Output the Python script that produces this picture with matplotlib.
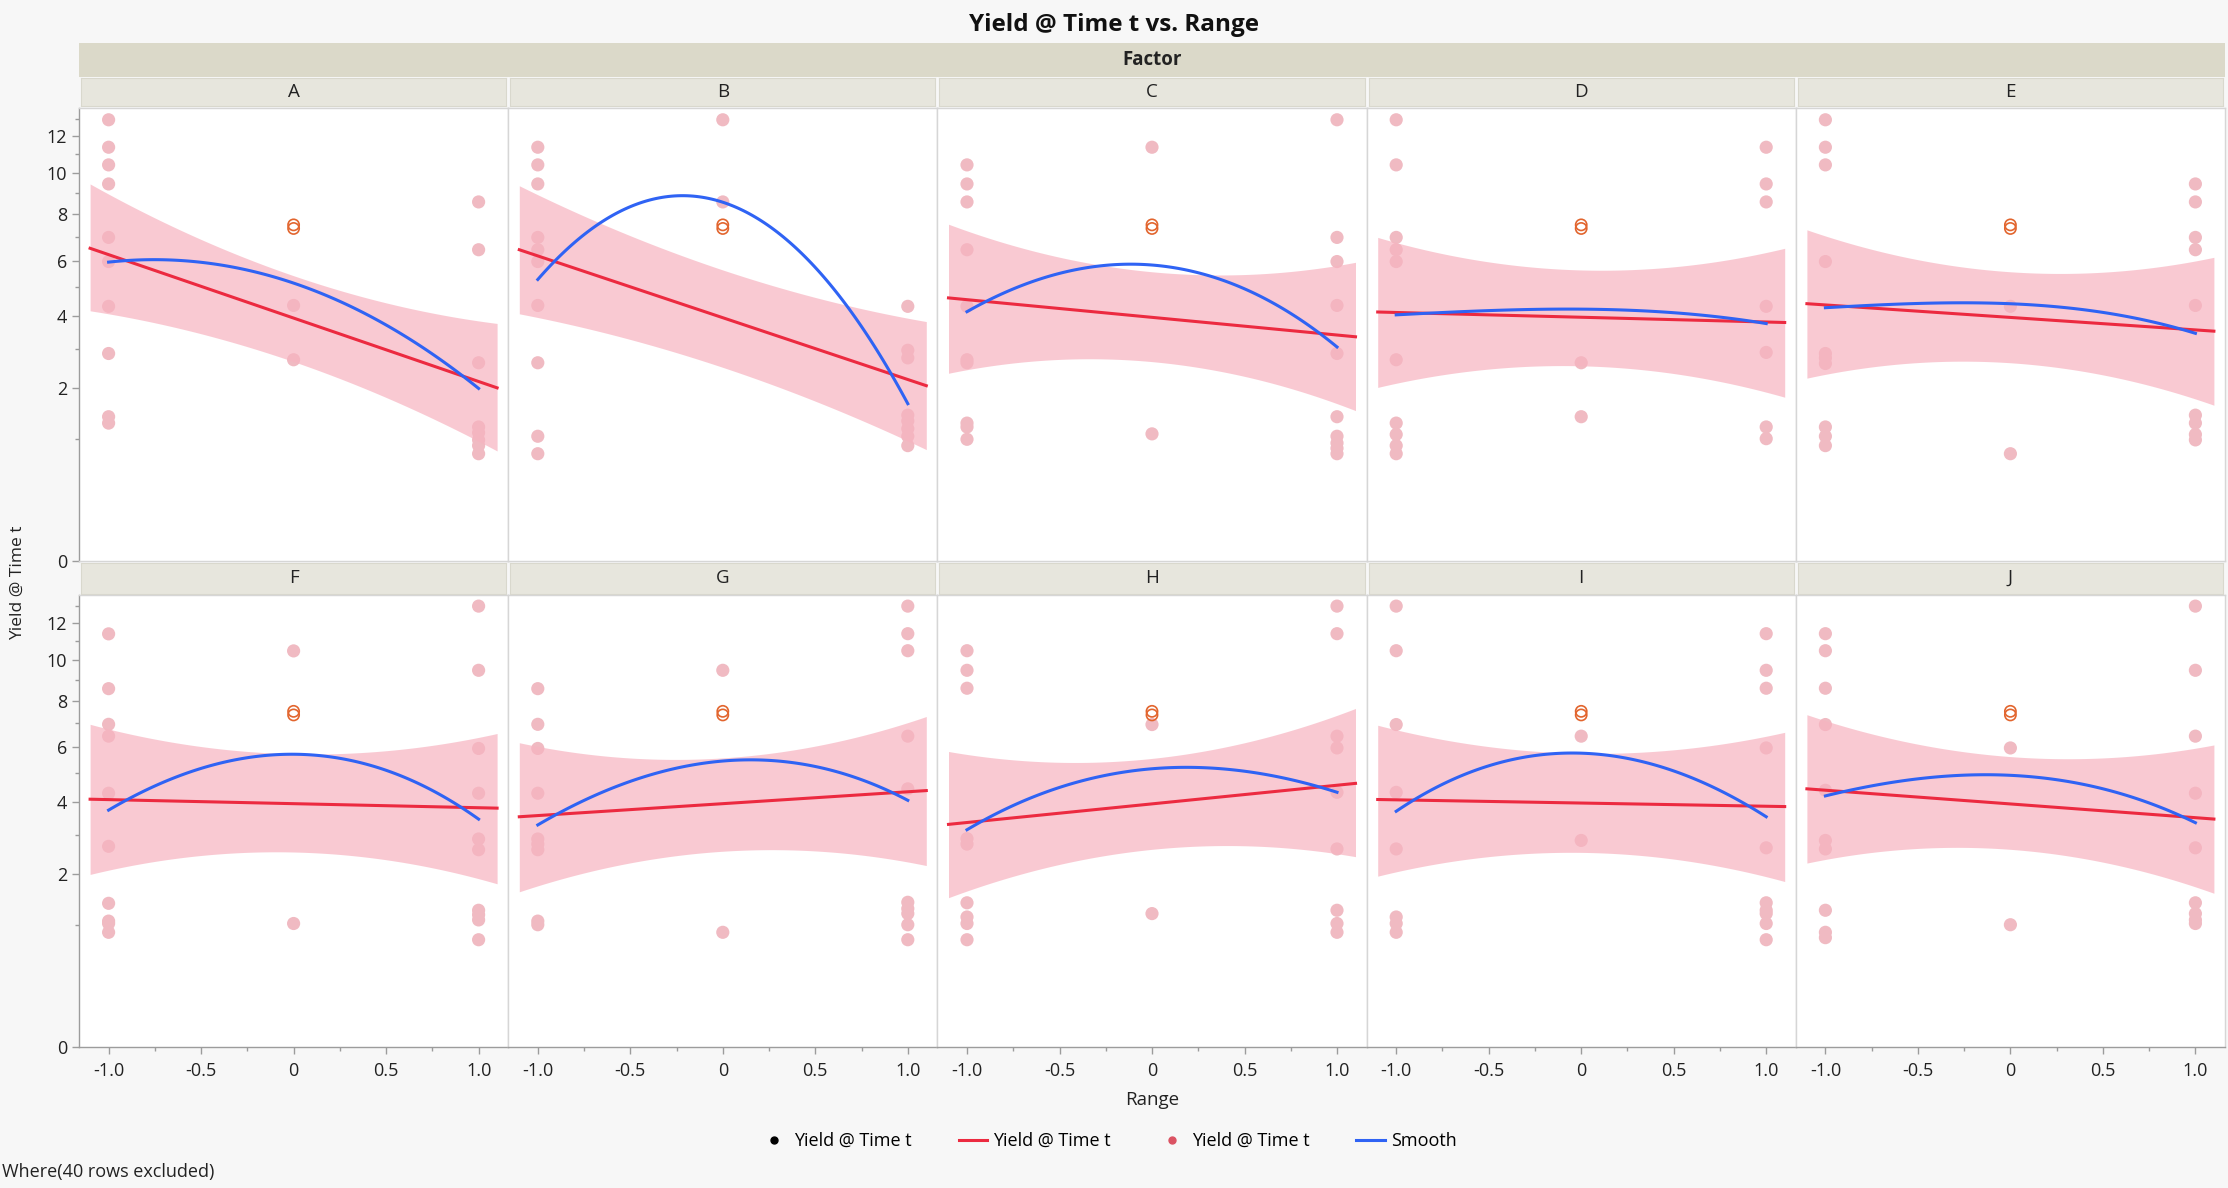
import numpy as np
import matplotlib
matplotlib.use("Agg")
import matplotlib.pyplot as plt
from matplotlib.lines import Line2D

plt.rcParams['font.family'] = ['Open Sans', 'DejaVu Sans']

# panels
factors = ["A", "B", "C", "D", "E", "F", "G", "H", "I", "J"]

# Yield @ Time t values at Range = -1, 0, 1 (one list per factor)
y_minus1 = [
    [12.95, 11.39, 10.44, 9.46, 6.97, 5.97, 4.32, 2.87, 1.39, 1.27],
    [11.39, 10.44, 9.46, 6.97, 6.45, 5.97, 4.35, 2.62, 1.04, 0.77],
    [10.44, 9.46, 8.58, 6.45, 4.32, 2.70, 2.62, 1.27, 1.20, 0.99],
    [12.95, 10.44, 6.97, 6.45, 5.97, 2.70, 1.27, 1.07, 0.89, 0.77],
    [12.95, 11.39, 10.44, 5.97, 2.87, 2.75, 2.60, 1.20, 1.04, 0.89],
    [11.39, 8.57, 6.95, 6.45, 4.30, 2.69, 1.38, 1.06, 1.02, 0.88],
    [8.57, 6.95, 5.95, 4.30, 2.89, 2.75, 2.60, 1.06, 1.00],
    [10.48, 9.47, 8.59, 2.90, 2.75, 1.39, 1.13, 1.02, 0.77],
    [12.97, 10.48, 6.94, 4.33, 2.62, 1.13, 1.02, 0.88],
    [11.40, 10.48, 8.59, 6.94, 4.40, 2.85, 2.62, 1.25, 0.88, 0.80],
]
y_zero = [
    [4.35, 2.70],
    [12.95, 8.58],
    [11.39, 1.08],
    [2.62, 1.39],
    [4.32, 0.77],
    [10.47, 1.02],
    [9.47, 0.88],
    [6.94, 1.19],
    [6.45, 2.85],
    [5.97, 1.00],
]
y_plus1 = [
    [8.58, 6.45, 2.62, 1.20, 1.10, 0.98, 0.89, 0.77],
    [4.32, 2.96, 2.75, 1.42, 1.31, 1.17, 1.04, 0.89],
    [12.95, 6.97, 5.97, 4.35, 2.87, 1.39, 1.04, 0.93, 0.85, 0.77],
    [11.39, 9.46, 8.58, 4.32, 2.90, 1.20, 1.00],
    [9.46, 8.58, 6.97, 6.45, 4.35, 1.42, 1.27, 1.07, 0.98],
    [12.97, 9.47, 5.95, 4.30, 2.89, 2.60, 1.25, 1.17, 1.08, 0.77],
    [12.97, 11.40, 10.48, 6.45, 4.45, 1.40, 1.28, 1.19, 1.00, 0.77],
    [12.97, 11.40, 6.45, 5.97, 4.33, 2.62, 1.25, 1.02, 0.88],
    [11.40, 9.47, 8.59, 5.97, 2.65, 1.39, 1.25, 1.19, 1.02, 0.77],
    [12.97, 9.47, 6.45, 4.30, 2.65, 1.39, 1.19, 1.08, 1.02],
]
# excluded rows shown as open circles at Range = 0
excluded_y = [7.36, 7.52]

# fitted line (ends of the fit range)
fit_x = [-1.1, 1.1]
fit_left = [6.51, 6.45, 4.61, 4.13, 4.41, 4.10, 3.54, 3.31, 4.09, 4.45]
fit_right = [2.00, 2.05, 3.35, 3.79, 3.52, 3.81, 4.39, 4.64, 3.86, 3.47]

# confidence band read at left end, centre, right end
band_x = [-1.1, 0.0, 1.1]
band_upper = [
    [9.46, 5.42, 3.76], [9.37, 5.64, 3.82], [7.55, 5.57, 5.94],
    [6.97, 5.64, 6.51], [7.30, 5.57, 6.14], [6.95, 5.74, 6.56],
    [6.18, 5.58, 7.29], [5.83, 5.56, 7.65], [6.91, 5.76, 6.61],
    [7.37, 5.63, 6.09],
]
band_lower = [
    [4.17, 2.65, 0.81], [4.07, 2.50, 0.83], [2.35, 2.65, 1.51],
    [2.01, 2.54, 1.79], [2.23, 2.62, 1.62], [1.99, 2.54, 1.78],
    [1.61, 2.56, 2.20], [1.49, 2.61, 2.42], [1.95, 2.53, 1.83],
    [2.26, 2.61, 1.58],
]

# smoother read at Range = -1, -0.5, 0, 0.5, 1
smooth_x = [-1.0, -0.5, 0.0, 0.5, 1.0]
smooth_y = [
    [5.97, 5.85, 5.27, 3.64, 2.00],
    [5.31, 8.19, 8.82, 5.60, 1.67],
    [4.16, 5.42, 5.97, 4.85, 3.07],
    [4.04, 4.16, 4.25, 4.09, 3.76],
    [4.28, 4.39, 4.45, 4.09, 3.46],
    [3.76, 5.12, 5.82, 5.05, 3.48],
    [3.30, 4.68, 5.51, 5.22, 4.07],
    [3.15, 4.51, 5.15, 5.09, 4.33],
    [3.71, 5.28, 5.76, 5.09, 3.54],
    [4.21, 4.80, 4.93, 4.45, 3.36],
]

W, H = 2228, 1188
fig = plt.figure(figsize=(W / 100, H / 100), dpi=100, facecolor="#F7F7F7")


def rect(x0, y0, x1, y1):
    return [x0 / W, 1 - y1 / H, (x1 - x0) / W, (y1 - y0) / H]


def fwd(v):
    return np.sqrt(np.clip(v, 0, None))


def inv(v):
    return np.asarray(v) ** 2


PT_COLOR = "#F0BAC2"
BAND_COLOR = "#F7B3C0"
RED = "#EC2A40"
BLUE = "#2F63F4"
ORANGE = "#E2652E"
TXT = "#222222"
AXIS_GRAY = "#9C9C9C"
SEP_GRAY = "#D6D6D6"

left_px, right_px = 79, 2225
pw = (right_px - left_px) / 5
rows = [(108, 561.4, 78, 106), (594.7, 1047.2, 562.5, 593.5)]

# Factor strip
sax = fig.add_axes(rect(left_px, 43, right_px, 76.5))
sax.set_facecolor("#DBD9C9")
sax.set_xticks([]); sax.set_yticks([])
for sp in sax.spines.values():
    sp.set_visible(False)
sax.text(0.5, 0.5, "Factor", ha="center", va="center", fontsize=13.5,
         fontweight="bold", color=TXT, transform=sax.transAxes)

xb = np.linspace(-1.1, 1.1, 120)
xs = np.linspace(-1.0, 1.0, 120)

for i, name in enumerate(factors):
    r, c = divmod(i, 5)
    top, bot, st_top, st_bot = rows[r]
    x0 = left_px + c * pw
    x1 = x0 + pw

    # panel strip
    st = fig.add_axes(rect(x0 + 2, st_top, x1 - 2, st_bot))
    st.set_facecolor("#E7E6DD")
    st.set_xticks([]); st.set_yticks([])
    for sp in st.spines.values():
        sp.set_color("#D9D8CD")
    st.text(0.5, 0.5, name, ha="center", va="center", fontsize=13.5,
            color=TXT, transform=st.transAxes)

    ax = fig.add_axes(rect(x0, top, x1, bot))
    ax.set_facecolor("white")
    ax.set_yscale("function", functions=(fwd, inv))
    ax.set_xlim(-1.16, 1.16)
    ax.set_ylim(0, 13.65)

    for xv, vals in zip([-1, 0, 1], [y_minus1[i], y_zero[i], y_plus1[i]]):
        ax.scatter(np.full(len(vals), xv), vals, s=90, color=PT_COLOR,
                   edgecolors="none", zorder=1)

    cu = np.polyfit(band_x, np.sqrt(band_upper[i]), 2)
    cl = np.polyfit(band_x, np.sqrt(band_lower[i]), 2)
    ax.fill_between(xb, np.polyval(cl, xb) ** 2, np.polyval(cu, xb) ** 2,
                    color=BAND_COLOR, alpha=0.7, lw=0, zorder=2)

    ax.plot(fit_x, [fit_left[i], fit_right[i]], color=RED, lw=2.2, zorder=3)

    cs = np.polyfit(smooth_x, np.sqrt(smooth_y[i]), 3)
    ax.plot(xs, np.polyval(cs, xs) ** 2, color=BLUE, lw=2.2, zorder=4)

    ax.scatter([0, 0], excluded_y, s=65, facecolors="none", edgecolors=ORANGE,
               linewidths=1.2, zorder=5)

    for sp in ax.spines.values():
        sp.set_color(SEP_GRAY)
        sp.set_linewidth(1)

    ax.set_yticks([0, 2, 4, 6, 8, 10, 12])
    ax.set_yticks([1, 3, 5, 7, 9, 11, 13], minor=True)
    ax.set_xticks([-1, -0.5, 0, 0.5, 1])
    ax.set_xticks([-0.75, -0.25, 0.25, 0.75], minor=True)
    ax.set_xticklabels(["-1.0", "-0.5", "0", "0.5", "1.0"])
    ax.tick_params(which="major", length=5, width=1, color=AXIS_GRAY,
                   labelsize=13, labelcolor=TXT)
    ax.tick_params(which="minor", length=3, width=1, color=AXIS_GRAY)

    if c == 0:
        ax.spines["left"].set_color(AXIS_GRAY)
    else:
        ax.tick_params(which="both", left=False, labelleft=False)
    if r == 1:
        ax.spines["bottom"].set_color(AXIS_GRAY)
        ax.tick_params(axis="x", which="major", pad=6)
    else:
        ax.tick_params(axis="x", which="both", bottom=False, labelbottom=False)

fig.text(0.5, 1 - 25 / H, "Yield @ Time t vs. Range", ha="center", va="center",
         fontsize=17.5, fontweight="bold", color="#111111")
fig.text(18 / W, 1 - 583 / H, "Yield @ Time t", rotation=90, ha="center",
         va="center", fontsize=12.5, color=TXT)
fig.text(1152 / W, 1 - 1100 / H, "Range", ha="center", va="center",
         fontsize=13.5, color=TXT)
fig.text(2 / W, 1 - 1172 / H, "Where(40 rows excluded)", ha="left",
         va="center", fontsize=13, color=TXT)

handles = [
    Line2D([], [], ls="none", marker="o", ms=5, color="black"),
    Line2D([], [], color=RED, lw=2.2),
    Line2D([], [], ls="none", marker="o", ms=5, color="#DB5363"),
    Line2D([], [], color=BLUE, lw=2.2),
]
labels = ["Yield @ Time t", "Yield @ Time t", "Yield @ Time t", "Smooth"]
fig.legend(handles, labels, loc="center", bbox_to_anchor=(1108 / W, 1 - 1141 / H),
           ncol=4, frameon=False, fontsize=13, handlelength=1.6,
           handletextpad=0.3, columnspacing=2.6)

fig.savefig("out.png", dpi=100, facecolor=fig.get_facecolor())
